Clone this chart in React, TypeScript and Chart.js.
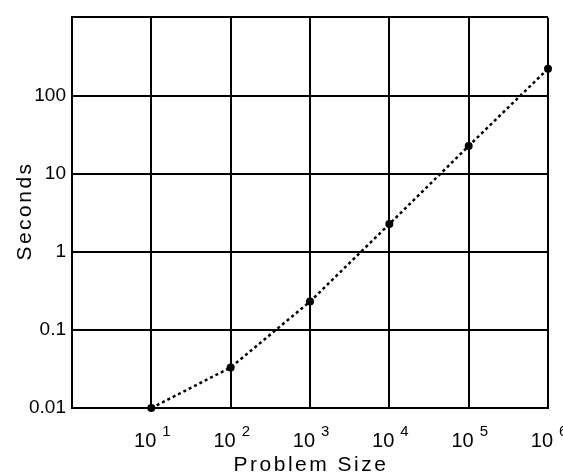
import React, { useEffect, useRef } from "react";
import { Chart, registerables } from "chart.js";

Chart.register(...registerables);

const problemSizes = [10, 100, 1000, 10000, 100000, 1000000];
const seconds = [0.01, 0.033, 0.23, 2.26, 22.6, 220];
const xExponents = [1, 2, 3, 4, 5, 6];
const yTickValues = [0.01, 0.1, 1, 10, 100, 1000];
const yTickLabels = ["0.01", "0.1", "1", "10", "100", ""];
const xTitle = "Problem Size";
const yTitle = "Seconds";

const FONT = "'Liberation Sans', Arial, sans-serif";

const labelsPlugin = {
  id: "customLabels",
  afterDraw(chart: any) {
    const ctx = chart.ctx as CanvasRenderingContext2D;
    const xs = chart.scales.x;
    const area = chart.chartArea;
    ctx.save();
    ctx.fillStyle = "#000";
    xExponents.forEach((e) => {
      const px = xs.getPixelForValue(Math.pow(10, e));
      ctx.font = `20px ${FONT}`;
      ctx.textAlign = "right";
      ctx.textBaseline = "alphabetic";
      ctx.fillText("10", px + 5, 447);
      ctx.font = `15px ${FONT}`;
      ctx.textAlign = "left";
      ctx.fillText(String(e), px + 11, 436);
    });
    // x title
    ctx.font = `21px ${FONT}`;
    (ctx as any).letterSpacing = "2.5px";
    ctx.textAlign = "center";
    ctx.fillText(xTitle, (area.left + area.right) / 2 + 1, 471);
    // y title
    ctx.save();
    ctx.translate(31, 211);
    ctx.rotate(-Math.PI / 2);
    (ctx as any).letterSpacing = "2.5px";
    ctx.font = `21px ${FONT}`;
    ctx.textAlign = "center";
    ctx.fillText(yTitle, 0, 0);
    ctx.restore();
    ctx.restore();
  },
};

export default function App() {
  const ref = useRef<HTMLCanvasElement | null>(null);
  useEffect(() => {
    if (!ref.current) return;
    const chart = new Chart(ref.current, {
      type: "line",
      data: {
        datasets: [
          {
            data: problemSizes.map((x, i) => ({ x, y: seconds[i] })),
            borderColor: "#000",
            backgroundColor: "#000",
            borderWidth: 2.5,
            borderDash: [3, 3],
            pointRadius: 4,
            pointBackgroundColor: "#000",
            pointBorderWidth: 0,
            tension: 0,
            clip: false,
          } as any,
        ],
      },
      options: {
        animation: false,
        responsive: true,
        maintainAspectRatio: false,
        layout: { padding: { top: 13, right: 15, left: 0, bottom: 0 } },
        plugins: { legend: { display: false }, tooltip: { enabled: false } },
        scales: {
          x: {
            type: "logarithmic",
            min: 1,
            max: 1000000,
            afterBuildTicks: (scale: any) => {
              scale.ticks = [1, ...problemSizes].map((v) => ({ value: v }));
            },
            afterFit: (scale: any) => {
              scale.height = 68;
            },
            ticks: { autoSkip: false, callback: () => "" },
            grid: { color: "#000", lineWidth: 2, drawTicks: false },
            border: { display: true, color: "#000", width: 2 },
          },
          y: {
            type: "logarithmic",
            min: 0.01,
            max: 1000,
            afterBuildTicks: (scale: any) => {
              scale.ticks = yTickValues.map((v) => ({ value: v }));
            },
            afterFit: (scale: any) => {
              scale.width = 72;
            },
            ticks: {
              autoSkip: false,
              padding: 6,
              color: "#000",
              font: { family: FONT, size: 19 },
              callback: (v: any) => {
                const i = yTickValues.findIndex((t) => Math.abs(t - Number(v)) < t * 1e-6);
                return i >= 0 ? yTickLabels[i] : "";
              },
            },
            grid: { color: "#000", lineWidth: 2, drawTicks: false },
            border: { display: true, color: "#000", width: 2 },
          },
        },
      },
      plugins: [labelsPlugin],
    });
    return () => chart.destroy();
  }, []);
  return (
    <div style={{ position: "fixed", left: 0, top: 0, width: 563, height: 476, background: "#fff" }}>
      <canvas ref={ref} />
    </div>
  );
}
